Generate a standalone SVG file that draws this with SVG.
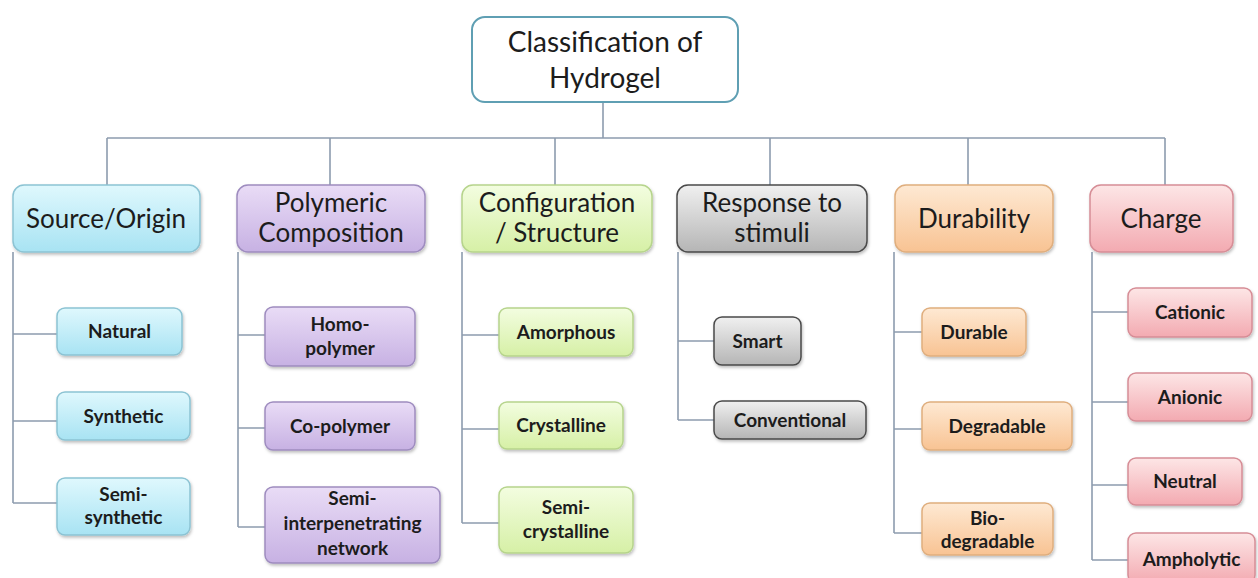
<svg xmlns="http://www.w3.org/2000/svg" width="1258" height="578" viewBox="0 0 1258 578">
<defs>
<linearGradient id="gBlue" x1="0" y1="0" x2="0" y2="1"><stop offset="0" stop-color="#dff8fd"/><stop offset="1" stop-color="#a8e3f3"/></linearGradient>
<linearGradient id="gPurple" x1="0" y1="0" x2="0" y2="1"><stop offset="0" stop-color="#e9dcf6"/><stop offset="1" stop-color="#c7b1e3"/></linearGradient>
<linearGradient id="gGreen" x1="0" y1="0" x2="0" y2="1"><stop offset="0" stop-color="#f3fde0"/><stop offset="1" stop-color="#d6f0a6"/></linearGradient>
<linearGradient id="gGray" x1="0" y1="0" x2="0" y2="1"><stop offset="0" stop-color="#f0f0f0"/><stop offset="1" stop-color="#b5b5b5"/></linearGradient>
<linearGradient id="gOrange" x1="0" y1="0" x2="0" y2="1"><stop offset="0" stop-color="#fee9d3"/><stop offset="1" stop-color="#f8c393"/></linearGradient>
<linearGradient id="gRed" x1="0" y1="0" x2="0" y2="1"><stop offset="0" stop-color="#fde6e6"/><stop offset="1" stop-color="#f3aab1"/></linearGradient>
<filter id="sh" x="-10%" y="-10%" width="120%" height="130%"><feDropShadow dx="1" dy="2" stdDeviation="1.5" flood-color="#000" flood-opacity="0.25"/></filter>
</defs>
<style>
.top{fill:#ffffff;stroke:#5f9fb3;stroke-width:2}
.blue{fill:url(#gBlue);stroke:#8cc3d3;stroke-width:1.5;filter:url(#sh)}
.purple{fill:url(#gPurple);stroke:#9e8cbf;stroke-width:1.5;filter:url(#sh)}
.green{fill:url(#gGreen);stroke:#b6d48c;stroke-width:1.5;filter:url(#sh)}
.gray{fill:url(#gGray);stroke:#4a4a4a;stroke-width:1.5;filter:url(#sh)}
.orange{fill:url(#gOrange);stroke:#dfae7e;stroke-width:1.5;filter:url(#sh)}
.red{fill:url(#gRed);stroke:#d68d96;stroke-width:1.5;filter:url(#sh)}
.conn{fill:none;stroke:#8d9cae;stroke-width:1.6}
text{font-family:Lato,"Open Sans","Liberation Sans",sans-serif;fill:#1c1c1c;text-anchor:middle}
.tt{font-size:28px}
.ht{font-size:26px}
.ct{font-size:19px;font-weight:bold}
</style>
<g id="connectors">
<path class="conn" d="M603 102V138M107 138H1165M107 138V185M330 138V185M555 138V185M770 138V185M968 138V185M1165 138V185"/>
<path class="conn" d="M13 252V503M13 334H57M13 421H57M13 503H57"/>
<path class="conn" d="M238 252V527M238 335H265M238 428H265M238 527H265"/>
<path class="conn" d="M462 252V523M462 335H499M462 429H499M462 523H499"/>
<path class="conn" d="M678 252V420M678 341H714M678 420H714"/>
<path class="conn" d="M894 252V533M894 332H922M894 429H922M894 533H922"/>
<path class="conn" d="M1092 252V560M1092 312H1128M1092 402H1128M1092 485H1128M1092 560H1128"/>
</g>
<g id="root"><rect class="top" x="472" y="17" width="266" height="85" rx="13"/><text class="tt" x="605" y="52">Classification of</text><text class="tt" x="605" y="88">Hydrogel</text></g>
<g id="source"><rect class="blue" x="13" y="185" width="187" height="67" rx="11"/><text class="ht" x="106" y="228">Source/Origin</text></g>
<g id="polymeric"><rect class="purple" x="237" y="185" width="188" height="67" rx="11"/><text class="ht" x="331" y="212">Polymeric</text><text class="ht" x="331" y="242">Composition</text></g>
<g id="configuration"><rect class="green" x="462" y="185" width="190" height="67" rx="11"/><text class="ht" x="557" y="212">Configuration</text><text class="ht" x="557" y="242">/ Structure</text></g>
<g id="response"><rect class="gray" x="677" y="185" width="190" height="67" rx="11"/><text class="ht" x="772" y="212">Response to</text><text class="ht" x="772" y="242">stimuli</text></g>
<g id="durability"><rect class="orange" x="895" y="185" width="158" height="67" rx="11"/><text class="ht" x="974" y="228">Durability</text></g>
<g id="charge"><rect class="red" x="1090" y="185" width="143" height="67" rx="11"/><text class="ht" x="1161" y="228">Charge</text></g>
<g id="natural"><rect class="blue" x="57" y="308" width="125" height="47" rx="8"/><text class="ct" x="119.5" y="338">Natural</text></g>
<g id="synthetic"><rect class="blue" x="57" y="392" width="133" height="48" rx="8"/><text class="ct" x="123.5" y="423">Synthetic</text></g>
<g id="semisynthetic"><rect class="blue" x="57" y="478" width="133" height="57" rx="8"/><text class="ct" x="123.5" y="501">Semi-</text><text class="ct" x="123.5" y="524">synthetic</text></g>
<g id="homopolymer"><rect class="purple" x="265" y="307" width="150" height="59" rx="8"/><text class="ct" x="340" y="331">Homo-</text><text class="ct" x="340" y="355">polymer</text></g>
<g id="copolymer"><rect class="purple" x="265" y="402" width="150" height="48" rx="8"/><text class="ct" x="340" y="433">Co-polymer</text></g>
<g id="semiipn"><rect class="purple" x="265" y="487" width="175" height="76" rx="8"/><text class="ct" x="352.5" y="505">Semi-</text><text class="ct" x="352.5" y="530">interpenetrating</text><text class="ct" x="352.5" y="555">network</text></g>
<g id="amorphous"><rect class="green" x="499" y="308" width="134" height="48" rx="8"/><text class="ct" x="566" y="339">Amorphous</text></g>
<g id="crystalline"><rect class="green" x="499" y="402" width="124" height="47" rx="8"/><text class="ct" x="561" y="432">Crystalline</text></g>
<g id="semicrystalline"><rect class="green" x="499" y="487" width="134" height="66" rx="8"/><text class="ct" x="566" y="514">Semi-</text><text class="ct" x="566" y="538">crystalline</text></g>
<g id="smart"><rect class="gray" x="714" y="317" width="87" height="48" rx="8"/><text class="ct" x="757.5" y="348">Smart</text></g>
<g id="conventional"><rect class="gray" x="714" y="401" width="152" height="38" rx="8"/><text class="ct" x="790" y="427">Conventional</text></g>
<g id="durable"><rect class="orange" x="922" y="308" width="104" height="48" rx="8"/><text class="ct" x="974" y="339">Durable</text></g>
<g id="degradable"><rect class="orange" x="922" y="402" width="150" height="48" rx="8"/><text class="ct" x="997" y="433">Degradable</text></g>
<g id="biodegradable"><rect class="orange" x="922" y="503" width="131" height="52" rx="8"/><text class="ct" x="987.5" y="525">Bio-</text><text class="ct" x="987.5" y="548">degradable</text></g>
<g id="cationic"><rect class="red" x="1128" y="288" width="124" height="49" rx="8"/><text class="ct" x="1190" y="319">Cationic</text></g>
<g id="anionic"><rect class="red" x="1128" y="373" width="124" height="48" rx="8"/><text class="ct" x="1190" y="404">Anionic</text></g>
<g id="neutral"><rect class="red" x="1128" y="458" width="114" height="47" rx="8"/><text class="ct" x="1185" y="488">Neutral</text></g>
<g id="ampholytic"><rect class="red" x="1128" y="533" width="127" height="50" rx="8"/><text class="ct" x="1191.5" y="566">Ampholytic</text></g>
</svg>
